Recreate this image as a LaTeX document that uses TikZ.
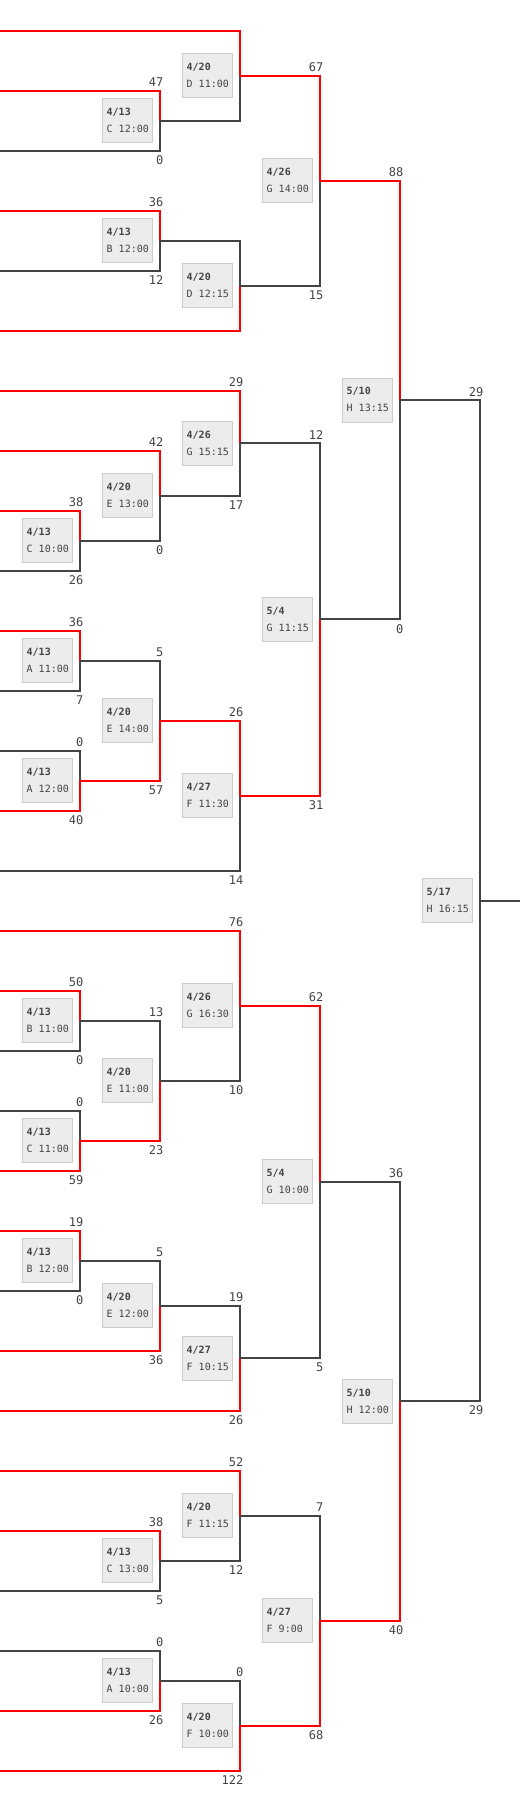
\documentclass[tikz,border=0pt]{standalone}
\usepackage{fontspec}
\usetikzlibrary{calc}
\newfontfamily\scorefont{DejaVu Sans Mono}
\newfontfamily\boxfont{DejaVu Sans Mono}
\definecolor{wred}{HTML}{FF0000}
\definecolor{ldark}{HTML}{444444}
\definecolor{boxfill}{HTML}{ECECEC}
\definecolor{boxline}{HTML}{CCCCCC}
\tikzset{
  win/.style={draw=wred, line width=2pt},
  lose/.style={draw=ldark, line width=2pt},
  scorelbl/.style={inner sep=0pt, text=ldark, font=\scorefont\fontsize{12}{12}\selectfont},
  gamebox/.style={draw=boxline, fill=boxfill, line width=1pt, minimum width=50pt, minimum height=44pt, inner sep=0pt},
  gametxt/.style={inner sep=0pt, text=ldark, font=\boxfont\fontsize{10}{12}\selectfont},
}
% #1 name, #2 column x, #3 top source, #4 bottom source, #5 top style, #6 bottom style
\newcommand\game[6]{%
  \coordinate (#1-t) at (#2,0 |- #3);
  \coordinate (#1-b) at (#2,0 |- #4);
  \coordinate (#1) at ($(#1-t)!0.5!(#1-b)$);
  \draw[#5] (#3) -- (#1-t) -- (#1);
  \draw[#6] (#4) -- (#1-b) -- (#1);
}
\newcommand\scores[3]{%
  \node[scorelbl, anchor=base east] (#1-st) at ([xshift=3.5pt,yshift=4pt]#1-t) {#2};
  \node[scorelbl, anchor=base east] (#1-sb) at ([xshift=3.5pt,yshift=-13.6pt]#1-b) {#3};
}
\newcommand\gbox[3]{%
  \node[gamebox] (#1-box) at ([xshift=-32.7pt]#1) {};
  \node[gametxt, anchor=base west] (#1-d) at ([xshift=4.7pt,yshift=-17.4pt]#1-box.north west) {\bfseries #2};
  \node[gametxt, anchor=base west] (#1-h) at ([xshift=4.7pt,yshift=-34.4pt]#1-box.north west) {#3};
}
\begin{document}
\begin{tikzpicture}[x=1pt,y=-1pt]
\useasboundingbox (0,0) rectangle (520,1800);
\foreach \k in {0,...,29} { \coordinate (L\k) at (0,{30.67+60*\k}); }
% upper quarter
\game{A1}{160}{L1}{L2}{win}{lose}
\game{A2}{240}{L0}{A1}{win}{lose}
\game{A3}{160}{L3}{L4}{win}{lose}
\game{A4}{240}{A3}{L5}{lose}{win}
\game{A5}{320}{A2}{A4}{win}{lose}
% second quarter
\game{B1}{80}{L8}{L9}{win}{lose}
\game{B2}{160}{L7}{B1}{win}{lose}
\game{B3}{240}{L6}{B2}{win}{lose}
\game{B4}{80}{L10}{L11}{win}{lose}
\game{B5}{80}{L12}{L13}{lose}{win}
\game{B6}{160}{B4}{B5}{lose}{win}
\game{B7}{240}{B6}{L14}{win}{lose}
\game{B8}{320}{B3}{B7}{lose}{win}
\game{C1}{400}{A5}{B8}{win}{lose}
% third quarter
\game{D1}{80}{L16}{L17}{win}{lose}
\game{D2}{80}{L18}{L19}{lose}{win}
\game{D3}{160}{D1}{D2}{lose}{win}
\game{D4}{240}{L15}{D3}{win}{lose}
\game{D5}{80}{L20}{L21}{win}{lose}
\game{D6}{160}{D5}{L22}{lose}{win}
\game{D7}{240}{D6}{L23}{lose}{win}
\game{D8}{320}{D4}{D7}{win}{lose}
% fourth quarter
\game{E1}{160}{L25}{L26}{win}{lose}
\game{E2}{240}{L24}{E1}{win}{lose}
\game{E3}{160}{L27}{L28}{lose}{win}
\game{E4}{240}{E3}{L29}{lose}{win}
\game{E5}{320}{E2}{E4}{lose}{win}
\game{C2}{400}{D8}{E5}{lose}{win}
% final
\game{F}{480}{C1}{C2}{lose}{lose}
\coordinate (Fend) at (520,0 |- F);
\draw[lose] (F) -- (Fend);
% scores
\scores{A1}{47}{0}
\scores{A3}{36}{12}
\scores{A5}{67}{15}
\scores{B1}{38}{26}
\scores{B2}{42}{0}
\scores{B3}{29}{17}
\scores{B4}{36}{7}
\scores{B5}{0}{40}
\scores{B6}{5}{57}
\scores{B7}{26}{14}
\scores{B8}{12}{31}
\scores{C1}{88}{0}
\scores{D1}{50}{0}
\scores{D2}{0}{59}
\scores{D3}{13}{23}
\scores{D4}{76}{10}
\scores{D5}{19}{0}
\scores{D6}{5}{36}
\scores{D7}{19}{26}
\scores{D8}{62}{5}
\scores{E1}{38}{5}
\scores{E2}{52}{12}
\scores{E3}{0}{26}
\scores{E4}{0}{122}
\scores{E5}{7}{68}
\scores{C2}{36}{40}
\scores{F}{29}{29}
% boxes
\gbox{A1}{4/13}{C 12:00}
\gbox{A2}{4/20}{D 11:00}
\gbox{A3}{4/13}{B 12:00}
\gbox{A4}{4/20}{D 12:15}
\gbox{A5}{4/26}{G 14:00}
\gbox{B1}{4/13}{C 10:00}
\gbox{B2}{4/20}{E 13:00}
\gbox{B3}{4/26}{G 15:15}
\gbox{B4}{4/13}{A 11:00}
\gbox{B5}{4/13}{A 12:00}
\gbox{B6}{4/20}{E 14:00}
\gbox{B7}{4/27}{F 11:30}
\gbox{B8}{5/4}{G 11:15}
\gbox{C1}{5/10}{H 13:15}
\gbox{D1}{4/13}{B 11:00}
\gbox{D2}{4/13}{C 11:00}
\gbox{D3}{4/20}{E 11:00}
\gbox{D4}{4/26}{G 16:30}
\gbox{D5}{4/13}{B 12:00}
\gbox{D6}{4/20}{E 12:00}
\gbox{D7}{4/27}{F 10:15}
\gbox{D8}{5/4}{G 10:00}
\gbox{E1}{4/13}{C 13:00}
\gbox{E2}{4/20}{F 11:15}
\gbox{E3}{4/13}{A 10:00}
\gbox{E4}{4/20}{F 10:00}
\gbox{E5}{4/27}{F 9:00}
\gbox{C2}{5/10}{H 12:00}
\gbox{F}{5/17}{H 16:15}
\end{tikzpicture}
\end{document}
